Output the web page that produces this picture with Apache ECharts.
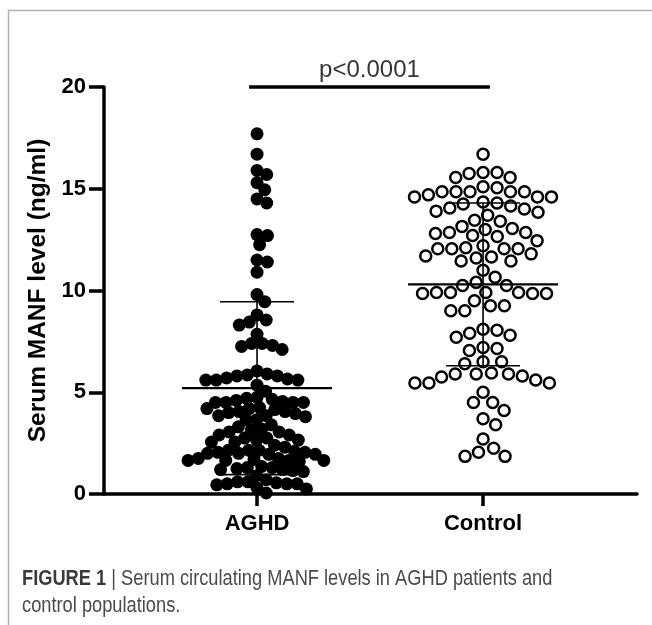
<!DOCTYPE html>
<html>
<head>
<meta charset="utf-8">
<script src="https://cdn.jsdelivr.net/npm/echarts@6/dist/echarts.min.js"></script>
<style>
  html, body { margin: 0; padding: 0; background: #fff; }
  #chart { width: 652px; height: 625px; }
</style>
</head>
<body>
<div id="chart"></div>
<script>
// groups on the x axis
const groupNames = ['AGHD', 'Control'];

// serum MANF (ng/ml)
const aghdValues = [
  17.7, 16.7, 15.9, 15.7, 15.3, 14.95, 14.5, 14.3,
  12.75, 12.7, 12.25, 11.5, 11.4, 10.9, 9.8, 9.45,
  8.8, 8.55, 8.45, 8.3, 7.85,
  7.4, 7.4, 7.3, 7.25, 7.1,
  6.05, 5.9, 5.85, 5.8, 5.8, 5.7, 5.65, 5.6, 5.6, 5.6,
  5.35, 5.05,
  4.75, 4.7, 4.65, 4.6, 4.55, 4.5, 4.5, 4.5, 4.5,
  4.25, 4.2, 4.2, 4.15, 4.05, 4.05, 4.0, 3.95, 3.85, 3.85, 3.8, 3.65, 3.65,
  3.4, 3.3, 3.2, 3.15, 3.05, 3.05, 2.9, 2.9,
  2.75, 2.75, 2.65, 2.65, 2.55, 2.55, 2.4,
  2.3, 2.15, 2.15, 2.15, 2.1, 2.05, 2.05, 2.0, 2.0, 1.95, 1.95,
  1.75, 1.75, 1.7, 1.65, 1.65, 1.65, 1.65, 1.6,
  1.35, 1.3, 1.3, 1.25, 1.2, 1.2, 1.15, 1.1,
  0.9, 0.7, 0.6, 0.6, 0.55, 0.5, 0.5, 0.5, 0.45,
  0.3, 0.25, 0.05
];
const controlValues = [
  16.7,
  15.8, 15.8, 15.75, 15.55, 15.55,
  15.1, 15.05, 14.85, 14.85, 14.85, 14.85, 14.85, 14.7, 14.6, 14.6, 14.6,
  14.35, 14.3, 14.25, 14.15, 14.05, 14.0, 13.9,
  13.85, 13.7, 13.45, 13.4,
  13.15, 13.05, 13.0, 12.85, 12.85, 12.8, 12.7, 12.65, 12.45,
  12.2, 12.1, 12.05, 12.05, 12.05, 12.05, 11.8, 11.7, 11.65, 11.6, 11.45, 11.45, 11.0,
  10.65, 10.4, 10.25, 10.25, 9.9, 9.9, 9.9, 9.9, 9.85, 9.85, 9.85, 9.5,
  9.25, 9.25, 9.0, 9.0,
  8.1, 8.05, 7.9, 7.8, 7.7,
  7.2, 7.15, 7.05,
  6.5, 6.5, 6.4,
  5.95, 5.9, 5.9, 5.9, 5.8, 5.75, 5.6, 5.45, 5.45, 5.45,
  5.0, 4.5, 4.5, 4.1, 3.7, 3.4, 2.7, 2.25, 2.05, 1.85, 1.85
];

// mean and SD shown by the error bars [mean, sd]
const aghdMeanSd = [5.2, 4.25];
const controlMeanSd = [10.3, 4.0];

// significance bracket
const pText = 'p<0.0001';
const pBarX = [0.965, 2.03];
const pBarY = 20;

const yTicks = [0, 5, 10, 15, 20];

// layout
const W = 652, H = 625;
const gridLeft = 104, gridRight = 15, gridTop = 87, gridBottom = 131;
const xMin = 0.323, xMax = 2.681;
const yPx = (H - gridTop - gridBottom) / (yTicks[yTicks.length - 1] - yTicks[0]);
const xPx = (W - gridLeft - gridRight) / (xMax - xMin);

// simple beeswarm: put every dot at the free spot nearest to the group centre
function swarm(values, gap) {
  const placed = [];
  const out = new Array(values.length);
  const order = values.map((v, i) => i).sort((a, b) => values[b] - values[a]);
  order.forEach(i => {
    const y = values[i] * yPx;
    const near = placed.filter(p => Math.abs(p.y - y) < gap);
    const cands = [0];
    near.forEach(p => {
      const h = Math.sqrt(gap * gap - (p.y - y) * (p.y - y));
      cands.push(p.x + h, p.x - h);
    });
    cands.sort((a, b) => Math.abs(a) - Math.abs(b));
    const x = cands.find(c => near.every(p => Math.hypot(p.x - c, p.y - y) >= gap - 1e-6));
    placed.push({ x: x, y: y });
    out[i] = x / xPx;
  });
  return out;
}

const aghdOff = swarm(aghdValues, 10.5);
const controlOff = swarm(controlValues, 14);

const errData = [
  [1, aghdMeanSd[0], aghdMeanSd[1]],
  [2, controlMeanSd[0], controlMeanSd[1]]
];

const boldFont = 'Liberation Sans, Arial, sans-serif';

const chart = echarts.init(document.getElementById('chart'), null, { renderer: 'canvas' });

const option = {
  backgroundColor: '#fff',
  animation: false,
  grid: { left: gridLeft, right: gridRight, top: gridTop, bottom: gridBottom },
  xAxis: {
    type: 'value',
    min: xMin,
    max: xMax,
    axisLine: { lineStyle: { color: '#000', width: 3.5 } },
    axisTick: { show: true, customValues: [1, 2], length: 12, lineStyle: { color: '#000', width: 3.5 } },
    axisLabel: {
      customValues: [1, 2],
      formatter: v => groupNames[Math.round(v) - 1],
      color: '#000',
      fontFamily: boldFont,
      fontWeight: 'bold',
      fontSize: 22,
      margin: 19
    },
    splitLine: { show: false }
  },
  yAxis: {
    type: 'value',
    min: yTicks[0],
    max: yTicks[yTicks.length - 1],
    interval: 5,
    name: 'Serum MANF level (ng/ml)',
    nameLocation: 'middle',
    nameGap: 47,
    nameTextStyle: {
      color: '#000',
      fontFamily: boldFont,
      fontWeight: 'bold',
      fontSize: 24.5
    },
    axisLine: { show: true, lineStyle: { color: '#000', width: 3.5 } },
    axisTick: { show: true, length: 15, lineStyle: { color: '#000', width: 3.5 } },
    axisLabel: {
      color: '#000',
      fontFamily: boldFont,
      fontWeight: 'bold',
      fontSize: 22,
      margin: 18
    },
    splitLine: { show: false }
  },
  series: [
    {
      name: 'AGHD',
      type: 'scatter',
      symbol: 'circle',
      symbolSize: 13,
      itemStyle: { color: '#000', opacity: 1 },
      data: aghdValues.map((v, i) => [1 + aghdOff[i], v]),
      z: 2
    },
    {
      name: 'Control',
      type: 'scatter',
      symbol: 'circle',
      symbolSize: 11,
      itemStyle: { color: '#fff', borderColor: '#000', borderWidth: 2.5, opacity: 1 },
      data: controlValues.map((v, i) => [2 + controlOff[i], v]),
      z: 2
    },
    {
      // mean +/- SD
      type: 'custom',
      z: 5,
      clip: false,
      data: errData,
      renderItem: function (params, api) {
        const x = api.value(0), m = api.value(1), sd = api.value(2);
        const c = api.coord([x, m]);
        const top = api.coord([x, m + sd]);
        const bot = api.coord([x, m - sd]);
        const st = { stroke: '#000', lineWidth: 1.6 };
        return {
          type: 'group',
          children: [
            { type: 'line', shape: { x1: c[0] - 75, y1: c[1], x2: c[0] + 75, y2: c[1] }, style: { stroke: '#000', lineWidth: 2.2 } },
            { type: 'line', shape: { x1: top[0], y1: top[1], x2: bot[0], y2: bot[1] }, style: st },
            { type: 'line', shape: { x1: top[0] - 37, y1: top[1], x2: top[0] + 37, y2: top[1] }, style: st },
            { type: 'line', shape: { x1: bot[0] - 37, y1: bot[1], x2: bot[0] + 37, y2: bot[1] }, style: st }
          ]
        };
      }
    },
    {
      // significance bar
      type: 'line',
      clip: false,
      symbol: 'none',
      lineStyle: { color: '#000', width: 3.5 },
      data: [[pBarX[0], pBarY], [pBarX[1], pBarY]],
      z: 5
    },
    {
      type: 'scatter',
      clip: false,
      symbolSize: 0,
      data: [[(pBarX[0] + pBarX[1]) / 2, pBarY]],
      label: {
        show: true,
        position: 'top',
        distance: 5,
        formatter: pText,
        color: '#000',
        fontFamily: boldFont,
        fontSize: 24
      }
    }
  ],
  graphic: [
    { type: 'line', shape: { x1: 8, y1: 10.5, x2: W, y2: 10.5 }, style: { stroke: '#b0b0b0', lineWidth: 1.5 } },
    { type: 'line', shape: { x1: 8.5, y1: 10, x2: 8.5, y2: H }, style: { stroke: '#b0b0b0', lineWidth: 1.5 } },
    {
      type: 'text',
      x: 22,
      y: 565,
      scaleX: 0.83,
      style: {
        text: '{b|FIGURE 1} | Serum circulating MANF levels in AGHD patients and\ncontrol populations.',
        fill: '#4a4a4a',
        fontFamily: 'Liberation Sans, Arial, sans-serif',
        fontSize: 22,
        lineHeight: 27,
        rich: {
          b: {
            fontFamily: 'Liberation Sans, Arial, sans-serif',
            fontWeight: 'bold',
            fontSize: 22,
            fill: '#3a3a3a',
            lineHeight: 27
          }
        }
      }
    }
  ]
};

chart.setOption(option);
</script>
</body>
</html>
